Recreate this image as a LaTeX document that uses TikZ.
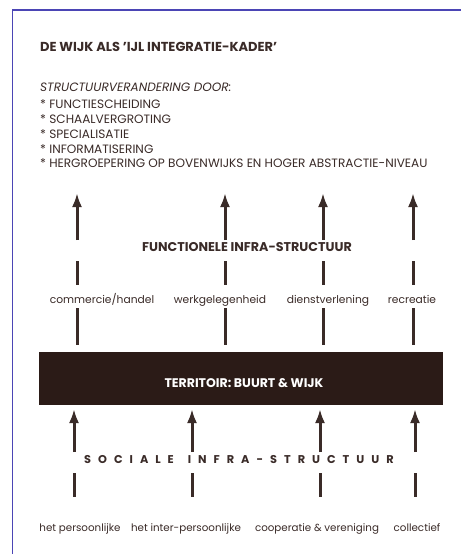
\documentclass[tikz,border=0pt]{standalone}
\usepackage{fontspec}
\setmainfont{Poppins}
\usetikzlibrary{arrows.meta}
\definecolor{ink}{HTML}{3A2B28}
\definecolor{framecol}{HTML}{4B45B5}
\definecolor{barcol}{HTML}{2B1B17}
\begin{document}
\begin{tikzpicture}[x=1pt,y=-1pt,
  txt/.style={text=ink, font=\fontsize{12.1}{14}\selectfont, inner sep=0pt},
  titletxt/.style={text=ink, font=\bfseries\fontsize{13}{14}\selectfont, inner sep=0pt},
  boldtxt/.style={text=ink, font=\bfseries\fontsize{12.7}{14}\selectfont, inner sep=0pt},
  lbl/.style={text=ink, font=\fontsize{10.7}{12}\selectfont, inner sep=0pt},
  lbllow/.style={text=ink, font=\fontsize{10.3}{12}\selectfont, inner sep=0pt},
  uparrow/.style={draw=ink, line width=3pt, -{Latex[length=14pt,width=10pt]}},
  dashbar/.style={draw=ink, line width=3pt},
  blackbar/.style={fill=barcol, draw=none, minimum width=404pt, minimum height=53pt, inner sep=0pt}]
\useasboundingbox (0,0) rectangle (461,554);
\fill[white] (0,0) rectangle (461,554);
\draw[framecol, line width=1.6pt] (12.5,554) -- (12.5,10) -- (461,10);

% heading and list
\node[titletxt, anchor=base west] (title) at (40,51) {DE WIJK ALS 'IJL INTEGRATIE-KADER'};
\node[txt, anchor=base west] (l0) at (40,91) {\itshape STRUCTUURVERANDERING DOOR:};
\node[txt, anchor=base west] (l1) at (40,108) {* FUNCTIESCHEIDING};
\node[txt, anchor=base west] (l2) at (40,123) {* SCHAALVERGROTING};
\node[txt, anchor=base west] (l3) at (40,138) {* SPECIALISATIE};
\node[txt, anchor=base west] (l4) at (40,153) {* INFORMATISERING};
\node[txt, anchor=base west] (l5) at (40,167) {* HERGROEPERING OP BOVENWIJKS EN HOGER ABSTRACTIE-NIVEAU};

% functional infrastructure
\node[boldtxt, anchor=base] (func) at (247,251) {FUNCTIONELE INFRA-STRUCTUUR};
\node[lbl, anchor=base] (c1) at (102,303) {commercie/handel};
\node[lbl, anchor=base] (c2) at (220,303) {werkgelegenheid};
\node[lbl, anchor=base] (c3) at (328,303) {dienstverlening};
\node[lbl, anchor=base] (c4) at (412,303) {recreatie};

\node[blackbar] (bar) at (241,378.5) {};
\node[text=white, font=\bfseries\fontsize{12.5}{14}\selectfont, inner sep=0pt, anchor=base] (terr) at (244,387) {TERRITOIR: BUURT \& WIJK};

\foreach \i/\x in {1/77,2/225,3/323,4/413}{
  \coordinate (ua\i) at (\x,240);
  \coordinate (ut\i) at (\x,193);
  \coordinate (ud\i) at (\x,261);
  \coordinate (ue\i) at (\x,285);
  \coordinate (md\i) at (\x,308);
  \coordinate (me\i) at (\x,345);
  \draw[uparrow] (ua\i) -- (ut\i);
  \draw[dashbar] (ud\i) -- (ue\i);
  \draw[dashbar] (md\i) -- (me\i);
}

% social infrastructure
\node[text=ink, font=\bfseries\fontsize{11.3}{12}\selectfont\addfontfeature{LetterSpace=62}, inner sep=0pt, anchor=base west] (soc) at (84,463) {SOCIALE\hspace{14pt}INFRA-STRUCTUUR};

\foreach \i/\x in {1/74,2/192,3/320,4/415}{
  \coordinate (la\i) at (\x,452);
  \coordinate (lt\i) at (\x,409);
  \coordinate (ld\i) at (\x,473);
  \coordinate (le\i) at (\x,497);
  \draw[uparrow] (la\i) -- (lt\i);
  \draw[dashbar] (ld\i) -- (le\i);
}

\node[lbllow, anchor=base] (s1) at (80,531) {het persoonlijke};
\node[lbllow, anchor=base] (s2) at (186,531) {het inter-persoonlijke};
\node[lbllow, anchor=base] (s3) at (317,531) {cooperatie \& vereniging};
\node[lbllow, anchor=base] (s4) at (417,531) {collectief};
\end{tikzpicture}
\end{document}
